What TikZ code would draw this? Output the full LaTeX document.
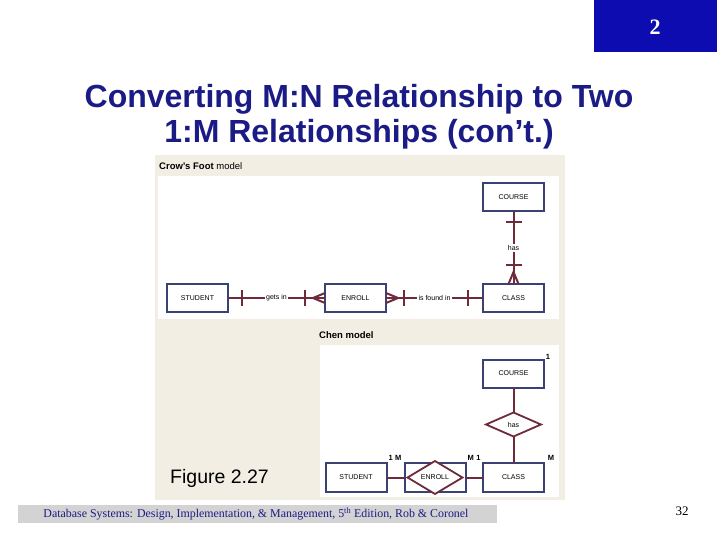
\documentclass[tikz,border=0pt]{standalone}
\usepackage{fontspec}
\setmainfont{Liberation Serif}
\setsansfont{Liberation Sans}
\usetikzlibrary{positioning, shapes.geometric}

\definecolor{titleblue}{HTML}{1B1B85}
\definecolor{tabblue}{HTML}{0C0CB0}
\definecolor{panelbeige}{HTML}{F2EEE4}
\definecolor{boxnavy}{HTML}{3A4274}
\definecolor{relred}{HTML}{6E2B3A}
\definecolor{footgray}{HTML}{D3D3D3}

\tikzset{
  entity/.style={draw=boxnavy, line width=2pt, fill=white,
    minimum width=61pt, minimum height=28pt, inner sep=0pt, outer sep=0pt,
    font=\sffamily\fontsize{7}{8}\selectfont},
  rel/.style={draw=relred, line width=2pt},
  rellabel/.style={fill=white, inner sep=1.5pt,
    font=\sffamily\fontsize{7}{8}\selectfont},
  chenrel/.style={diamond, draw=relred, line width=1.8pt, fill=white,
    minimum width=55pt, minimum height=24pt, inner sep=0pt, outer sep=0pt,
    font=\sffamily\fontsize{7}{8}\selectfont},
  card/.style={inner sep=0pt, font=\sffamily\bfseries\fontsize{7.5}{8}\selectfont},
  caption/.style={anchor=west, inner sep=0pt, font=\sffamily\fontsize{9.5}{10}\selectfont}
}

\begin{document}
\begin{tikzpicture}[x=1pt, y=-1pt]
\useasboundingbox (0,0) rectangle (720,540);

% slide frame
\fill[tabblue] (594,0) rectangle (717,52);
\node[text=white, font=\rmfamily\bfseries\fontsize{22}{24}\selectfont] (tab) at (655,27) {2};
\node[text=titleblue, align=center, font=\sffamily\bfseries\fontsize{32}{35}\selectfont] (title) at (359,117)
  {Converting M:N Relationship to Two\\1:M Relationships (con’t.)};

% figure panel
\fill[panelbeige] (155,155) rectangle (565,500);
\fill[white] (158,176) rectangle (559,319);
\fill[white] (320,345) rectangle (559,497);
\node[caption] (cfCaption) at (159,166) {\textbf{Crow’s Foot} model};
\node[caption] (chCaption) at (319,335) {\textbf{Chen model}};

% Crow's Foot model
\node[entity] (cfStudent) at (197.5,298) {STUDENT};
\node[entity, right=97pt of cfStudent] (cfEnroll) {ENROLL};
\node[entity, right=97pt of cfEnroll] (cfClass) {CLASS};
\node[entity, above=72.5pt of cfClass] (cfCourse) {COURSE};

\draw[rel] (cfStudent) -- node[rellabel] {gets in} (cfEnroll);
\draw[rel] (cfEnroll) -- node[rellabel] {is found in} (cfClass);
\draw[rel] (cfCourse) -- node[rellabel] {has} (cfClass);

% bars and feet
\draw[rel] ([xshift=14pt]cfStudent.east) ++(0,-8) -- ++(0,16);
\draw[rel] ([xshift=-20pt]cfEnroll.west) ++(0,-8) -- ++(0,16);
\draw[rel] ([xshift=18pt]cfEnroll.east) ++(0,-8) -- ++(0,16);
\draw[rel] ([xshift=-15pt]cfClass.west) ++(0,-8) -- ++(0,16);
\draw[rel] ([yshift=-11pt]cfCourse.south) ++(-8,0) -- ++(16,0);
\draw[rel] ([yshift=19pt]cfClass.north) ++(-8,0) -- ++(16,0);
\draw[rel] ([yshift=5pt]cfEnroll.west) -- ++(-12,5) -- ([yshift=-5pt]cfEnroll.west);
\draw[rel] ([yshift=5pt]cfEnroll.east) -- ++(12,5) -- ([yshift=-5pt]cfEnroll.east);
\draw[rel] ([xshift=-5pt]cfClass.north) -- ++(5,-12) -- ([xshift=5pt]cfClass.north);

% Chen model
\node[entity, minimum height=29pt] (chStudent) at (356,477.5) {STUDENT};
\node[entity, minimum height=29pt, right=18pt of chStudent] (chEnroll) {};
\node[chenrel] (chEnrollRel) at (chEnroll) {ENROLL};
\node[entity, minimum height=29pt, right=17.5pt of chEnroll] (chClass) {CLASS};
\node[chenrel, above=26.5pt of chClass] (chHas) {has};
\node[entity, above=25pt of chHas] (chCourse) {COURSE};

\draw[rel] (chStudent) -- (chEnroll);
\draw[rel] (chEnroll) -- (chClass);
\draw[rel] (chCourse) -- (chHas);
\draw[rel] (chHas) -- (chClass);

\node[card] (cardCourse) at (548,357) {1};
\node[card] (cardStudent) at (395,458) {1\,\,M};
\node[card] (cardEnroll) at (474,458) {M\,\,1};
\node[card] (cardClass) at (551,458) {M};

\node[anchor=west, inner sep=0pt, font=\sffamily\fontsize{19.5}{20}\selectfont] (figLabel) at (170,478) {Figure 2.27};

% footer
\fill[footgray] (18,505) rectangle (497,523);
\node[text=titleblue, font=\rmfamily\fontsize{11.9}{12}\selectfont] (footer) at (256,514)
  {Database Systems: Design, Implementation, \& Management, 5\textsuperscript{th} Edition, Rob \& Coronel};
\node[font=\rmfamily\fontsize{13}{14}\selectfont] (pageNo) at (682,511) {32};
\end{tikzpicture}
\end{document}
